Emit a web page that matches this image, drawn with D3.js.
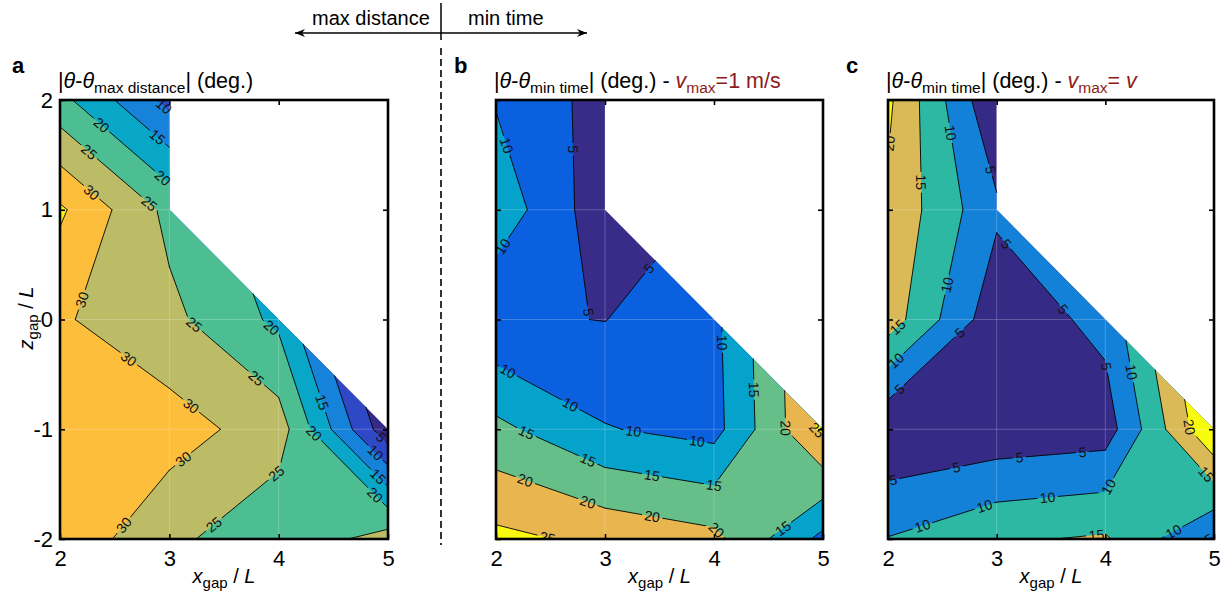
<!DOCTYPE html>
<html>
<head>
<meta charset="utf-8">
<script src="https://cdn.jsdelivr.net/npm/d3@7"></script>
<style>
  body { margin: 0; background: #fff; }
  text { font-family: "Liberation Sans", Arial, Helvetica, sans-serif; white-space: pre; }
</style>
</head>
<body>
<svg id="fig" width="1232" height="592"></svg>
<script>
// grid of the simulation: x_gap/L columns, z_gap/L rows (top row z = 2)
const xValues = [2, 3, 4, 5];
const zValues = [2, 1, 0, -1, -2];

// |theta - theta_max distance| (deg.), NaN = not simulated
const gridA = [
  [21.5,  8.5,  NaN, NaN],
  [35.8, 23.6,  NaN, NaN],
  [30.6, 26.3, 18.9, NaN],
  [33.5, 32.2, 27.5, 1.5],
  [33.4, 26.3, 21.0, 27.3]
];
// |theta - theta_min time|, vmax = 1 m/s
const gridB = [
  [ 9.6,  3.0,  NaN,  NaN],
  [13.3,  1.8,  NaN,  NaN],
  [ 5.6,  4.9, 8.75,  NaN],
  [16.3, 10.3,  8.3, 26.1],
  [26.3, 23.8, 21.4,  8.6]
];
// |theta - theta_min time|, vmax = v
const gridC = [
  [21.0,  0.2,  NaN,  NaN],
  [19.1,  5.9,  NaN,  NaN],
  [17.6,  1.6,  6.5,  NaN],
  [ 0.4,  1.5,  2.5, 25.0],
  [10.2, 14.3, 15.6,  4.5]
];

const levelsA = [5, 10, 15, 20, 25, 30, 35];
const levelsB = [5, 10, 15, 20, 25];
const levelsC = [5, 10, 15, 20];

const colorsA = ["#352a87", "#2f48c6", "#1782da", "#08a7c8", "#4dbe92", "#bbbc65", "#fdbf3b", "#f9fb0e"];
const colorsB = ["#382c88", "#0b60e0", "#05a2cb", "#66bf88", "#e9b54f", "#f9fb0e"];
const colorsC = ["#362a87", "#1481d8", "#2db8a4", "#d9ba56", "#f9fb0e"];

// contour labels: [level, x, z] (snapped onto the line)
const labelsA = [
  [10, 2.94, 1.93], [15, 2.89, 1.66], [20, 2.37, 1.76], [20, 2.93, 1.28], [25, 2.26, 1.52],
  [25, 2.81, 1.05], [30, 2.29, 1.16], [30, 2.2, 0.18], [30, 2.62, -0.37], [30, 3.19, -0.8],
  [30, 3.11, -1.25], [30, 2.58, -1.87], [25, 3.25, -0.02], [25, 3.8, -0.53], [25, 4.01, -1.44],
  [25, 3.45, -1.92], [20, 3.92, -0.09], [20, 4.33, -1.03], [20, 4.9, -1.58], [15, 4.41, -0.75],
  [15, 4.93, -1.41], [10, 4.9, -1.2], [5, 4.96, -1.05]
];
const labelsB = [
  [10, 2.08, 1.58], [10, 2.07, 0.66], [5, 2.7, 1.55], [5, 3.41, 0.46], [5, 2.88, 0.07],
  [10, 2.11, -0.47], [10, 2.68, -0.78], [10, 3.26, -1.03], [10, 3.84, -1.14], [10, 4.08, -0.21],
  [15, 2.27, -1.05], [15, 2.84, -1.29], [15, 3.43, -1.43], [15, 4.0, -1.53], [15, 4.33, -0.64],
  [15, 4.63, -1.9], [20, 2.27, -1.46], [20, 2.84, -1.67], [20, 3.43, -1.81], [20, 4.0, -1.94],
  [20, 4.64, -0.99], [25, 2.48, -1.96], [25, 4.93, -1.02]
];
const labelsC = [
  [20, 2.06, 1.6], [15, 2.28, 1.25], [10, 2.57, 1.7], [5, 2.89, 1.35], [10, 2.52, 0.32],
  [5, 3.08, 0.68], [15, 2.09, -0.07], [10, 2.08, -0.38], [5, 2.09, -0.62], [5, 2.66, -0.12],
  [5, 3.63, 0.11], [5, 4.0, -0.43], [10, 4.24, -0.48], [5, 2.05, -1.48], [5, 2.63, -1.35],
  [5, 3.21, -1.26], [5, 3.79, -1.22], [10, 2.32, -1.89], [10, 2.89, -1.71], [10, 3.47, -1.63],
  [10, 4.04, -1.53], [20, 4.78, -0.98], [15, 4.94, -1.4], [10, 4.62, -1.92], [5, 4.94, -1.98],
  [15, 3.92, -1.98]
];

const titleA = [["|"], ["θ", "it"], ["-"], ["θ", "it"], ["max distance", "sub"], ["|"], [" (deg.)"]];
const titleB = [["|"], ["θ", "it"], ["-"], ["θ", "it"], ["min time", "sub"], ["|"], [" (deg.) - "],
  ["v", "it red"], ["max", "sub red"], ["=1 m/s", "red"]];
const titleC = [["|"], ["θ", "it"], ["-"], ["θ", "it"], ["min time", "sub"], ["|"], [" (deg.) - "],
  ["v", "it red"], ["max", "sub red"], ["= ", "red"], ["v", "it red"]];

const W = 1232, H = 592;
const plotTop = 100, plotBottom = 539;
const svg = d3.select("#fig");
const defs = svg.append("defs");
const yScale = d3.scaleLinear().domain([-2, 2]).range([plotBottom, plotTop]);

function lerp(p, q, L) {
  const t = (L - p.v) / (q.v - p.v);
  return { x: p.x + t * (q.x - p.x), z: p.z + t * (q.z - p.z), v: L };
}

// cells (quads, or triangles where one corner is missing), corners in perimeter order
function cellPolys(grid) {
  const polys = [];
  for (let j = 0; j < zValues.length - 1; j++) {
    for (let i = 0; i < xValues.length - 1; i++) {
      const corners = [[i, j], [i + 1, j], [i + 1, j + 1], [i, j + 1]]
        .map(([a, b]) => ({ x: xValues[a], z: zValues[b], v: grid[b][a] }))
        .filter(p => !isNaN(p.v));
      if (corners.length >= 3) polys.push(corners);
    }
  }
  return polys;
}

// part of a cell at or above level L, plus the contour segments of L in it
function splitCell(poly, L) {
  const pts = [], cross = [];
  poly.forEach((p, k) => {
    const q = poly[(k + 1) % poly.length];
    if (p.v >= L) pts.push(p);
    if ((p.v >= L) !== (q.v >= L)) {
      const c = lerp(p, q, L);
      c.leaving = p.v >= L;
      pts.push(c);
      cross.push(c);
    }
  });
  const saddle = cross.length === 4 && d3.mean(poly, d => d.v) < L;
  const fills = [], segs = [];
  if (!saddle) {
    if (pts.length >= 3) fills.push(pts);
    cross.forEach((c, k) => { if (c.leaving) segs.push([c, cross[(k + 1) % cross.length]]); });
  } else {
    // high corners stay apart
    cross.forEach((c, k) => {
      if (!c.leaving) return;
      const prev = cross[(k + cross.length - 1) % cross.length];
      const i0 = pts.indexOf(prev), i1 = pts.indexOf(c);
      const piece = [];
      for (let i = i0; ; i = (i + 1) % pts.length) { piece.push(pts[i]); if (i === i1) break; }
      fills.push(piece);
      segs.push([prev, c]);
    });
  }
  return { fills, segs };
}

function richText(sel, parts, subSize) {
  let shift = 0;
  parts.forEach(([t, style = ""]) => {
    const flags = style.split(" ");
    const sub = flags.includes("sub");
    const ts = sel.append("tspan").text(t);
    const want = sub ? 5 : 0;
    if (want !== shift) { ts.attr("dy", want - shift); shift = want; }
    if (sub) ts.attr("font-size", subSize);
    if (flags.includes("it")) ts.attr("font-style", "italic");
    if (flags.includes("red")) ts.attr("fill", "#8c1b1b");
  });
}

function drawPanel(p) {
  const x = d3.scaleLinear().domain([2, 5]).range([p.left, p.right]);
  const y = yScale;
  const g = svg.append("g");

  const clipId = "clip-" + p.id;
  defs.append("clipPath").attr("id", clipId)
    .append("rect").attr("x", p.left).attr("y", plotTop)
    .attr("width", p.right - p.left).attr("height", plotBottom - plotTop);

  const polys = cellPolys(p.grid);
  const toPath = ps => ps.filter(q => q.length >= 3)
    .map(q => "M" + q.map(d => `${x(d.x)},${y(d.z)}`).join("L") + "Z").join("");

  // filled bands, painted from low to high
  g.append("path").attr("d", toPath(polys)).attr("fill", p.colors[0]);
  const segsByLevel = new Map();
  p.levels.forEach((L, k) => {
    const parts = polys.map(q => splitCell(q, L));
    g.append("path").attr("d", toPath(parts.flatMap(s => s.fills))).attr("fill", p.colors[k + 1]);
    segsByLevel.set(L, parts.flatMap(s => s.segs).map(s => s.map(d => [x(d.x), y(d.z)])));
  });

  // faint grid
  const grid = g.append("g").attr("stroke", "#fff").attr("stroke-opacity", 0.22).attr("stroke-width", 1);
  [3, 4].forEach(v => grid.append("line").attr("x1", x(v)).attr("x2", x(v)).attr("y1", plotTop).attr("y2", plotBottom));
  [1, 0, -1].forEach(v => grid.append("line").attr("x1", p.left).attr("x2", p.right).attr("y1", y(v)).attr("y2", y(v)));

  // contour lines, with gaps under the labels
  const maskId = "gap-" + p.id;
  const mask = defs.append("mask").attr("id", maskId).attr("maskUnits", "userSpaceOnUse")
    .attr("x", 0).attr("y", 0).attr("width", W).attr("height", H);
  mask.append("rect").attr("width", W).attr("height", H).attr("fill", "#fff");

  const lines = g.append("g").attr("clip-path", `url(#${clipId})`)
    .append("g").attr("mask", `url(#${maskId})`)
    .attr("fill", "none").attr("stroke", "#000").attr("stroke-width", 0.9).attr("stroke-linecap", "round");
  segsByLevel.forEach(segs => {
    lines.append("path").attr("d", segs.map(s => `M${s[0][0]},${s[0][1]}L${s[1][0]},${s[1][1]}`).join(""));
  });

  // contour labels, rotated along the line
  const labG = g.append("g").attr("clip-path", `url(#${clipId})`);
  p.labels.forEach(([L, lx, lz]) => {
    const px = x(lx), py = y(lz);
    let best = null;
    (segsByLevel.get(L) || []).forEach(([a, b]) => {
      const dx = b[0] - a[0], dy = b[1] - a[1];
      const len2 = dx * dx + dy * dy || 1;
      let t = ((px - a[0]) * dx + (py - a[1]) * dy) / len2;
      t = Math.max(0, Math.min(1, t));
      const qx = a[0] + t * dx, qy = a[1] + t * dy;
      const d2 = (qx - px) ** 2 + (qy - py) ** 2;
      if (!best || d2 < best.d2) best = { d2, qx, qy, ang: Math.atan2(dy, dx) * 180 / Math.PI };
    });
    if (!best) return;
    let ang = best.ang;
    if (ang > 90) ang -= 180;
    if (ang <= -90) ang += 180;
    const t = labG.append("text")
      .attr("transform", `translate(${best.qx},${best.qy}) rotate(${ang})`)
      .attr("text-anchor", "middle").attr("dy", "0.36em")
      .attr("font-size", 14).attr("fill", "#111").text(L);
    const w = t.node().getComputedTextLength() + 5;
    mask.append("rect").attr("x", -w / 2).attr("y", -6.5).attr("width", w).attr("height", 13)
      .attr("transform", `translate(${best.qx},${best.qy}) rotate(${ang})`).attr("fill", "#000");
  });

  // axes with inward ticks
  const styleAxis = sel => {
    sel.select(".domain").remove();
    sel.selectAll(".tick line").attr("stroke", "#000").attr("stroke-width", 1.6);
    sel.selectAll("text").attr("font-size", 22).attr("fill", "#000")
      .attr("font-family", "\"Liberation Sans\", Arial, sans-serif");
  };
  svg.append("g").attr("transform", `translate(0,${plotBottom})`)
    .call(d3.axisBottom(x).tickValues(xValues).tickSize(-5).tickPadding(11).tickFormat(d => String(d)))
    .call(styleAxis);
  svg.append("g").attr("transform", `translate(0,${plotTop})`)
    .call(d3.axisTop(x).tickValues([3, 4]).tickSize(-5).tickFormat(""))
    .call(styleAxis);
  svg.append("g").attr("transform", `translate(${p.left},0)`)
    .call(d3.axisLeft(y).tickValues(zValues).tickSize(-5).tickPadding(7)
      .tickFormat(d => p.yLabels ? String(d) : ""))
    .call(styleAxis);
  svg.append("g").attr("transform", `translate(${p.right},0)`)
    .call(d3.axisRight(y).tickValues([1, 0, -1]).tickSize(-5).tickFormat(""))
    .call(styleAxis);

  svg.append("rect").attr("x", p.left).attr("y", plotTop)
    .attr("width", p.right - p.left).attr("height", plotBottom - plotTop)
    .attr("fill", "none").attr("stroke", "#000").attr("stroke-width", 2.6);

  // title, panel letter, x label
  richText(svg.append("text").attr("x", p.left - 2).attr("y", 88).attr("font-size", 21.5), p.title, 15.5);
  svg.append("text").attr("x", p.letterX).attr("y", 73).attr("font-size", 22)
    .attr("font-weight", "bold").text(p.id);
  richText(svg.append("text").attr("x", (p.left + p.right) / 2).attr("y", 583)
    .attr("text-anchor", "middle").attr("font-size", 20),
    [["x", "it"], ["gap", "sub"], [" / "], ["L", "it"]], 15);
}

drawPanel({ id: "a", left: 60, right: 388, grid: gridA, levels: levelsA, colors: colorsA,
  labels: labelsA, title: titleA, letterX: 12, yLabels: true });
drawPanel({ id: "b", left: 496, right: 823, grid: gridB, levels: levelsB, colors: colorsB,
  labels: labelsB, title: titleB, letterX: 454, yLabels: false });
drawPanel({ id: "c", left: 888, right: 1214, grid: gridC, levels: levelsC, colors: colorsC,
  labels: labelsC, title: titleC, letterX: 846, yLabels: false });

// y label of panel a
richText(svg.append("text").attr("transform", "translate(33,318) rotate(-90)")
  .attr("text-anchor", "middle").attr("font-size", 20),
  [["z", "it"], ["gap", "sub"], [" / "], ["L", "it"]], 15);

// separator between the two criteria
const sepX = 441;
svg.append("line").attr("x1", sepX).attr("x2", sepX).attr("y1", 3).attr("y2", 40)
  .attr("stroke", "#000").attr("stroke-width", 1.5);
svg.append("line").attr("x1", sepX).attr("x2", sepX).attr("y1", 48).attr("y2", 545)
  .attr("stroke", "#000").attr("stroke-width", 1.6).attr("stroke-dasharray", "7 4");

defs.append("marker").attr("id", "head").attr("viewBox", "0 0 10 8").attr("refX", 10).attr("refY", 4)
  .attr("markerWidth", 10).attr("markerHeight", 8).attr("markerUnits", "userSpaceOnUse")
  .attr("orient", "auto").append("path").attr("d", "M0,0L10,4L0,8L3,4Z").attr("fill", "#000");
svg.append("line").attr("x1", sepX).attr("x2", 295).attr("y1", 33).attr("y2", 33)
  .attr("stroke", "#000").attr("stroke-width", 1.3).attr("marker-end", "url(#head)");
svg.append("line").attr("x1", sepX).attr("x2", 587).attr("y1", 33).attr("y2", 33)
  .attr("stroke", "#000").attr("stroke-width", 1.3).attr("marker-end", "url(#head)");
svg.append("text").attr("x", 312).attr("y", 25).attr("font-size", 20).text("max distance");
svg.append("text").attr("x", 468).attr("y", 25).attr("font-size", 20).text("min time");
</script>
</body>
</html>
